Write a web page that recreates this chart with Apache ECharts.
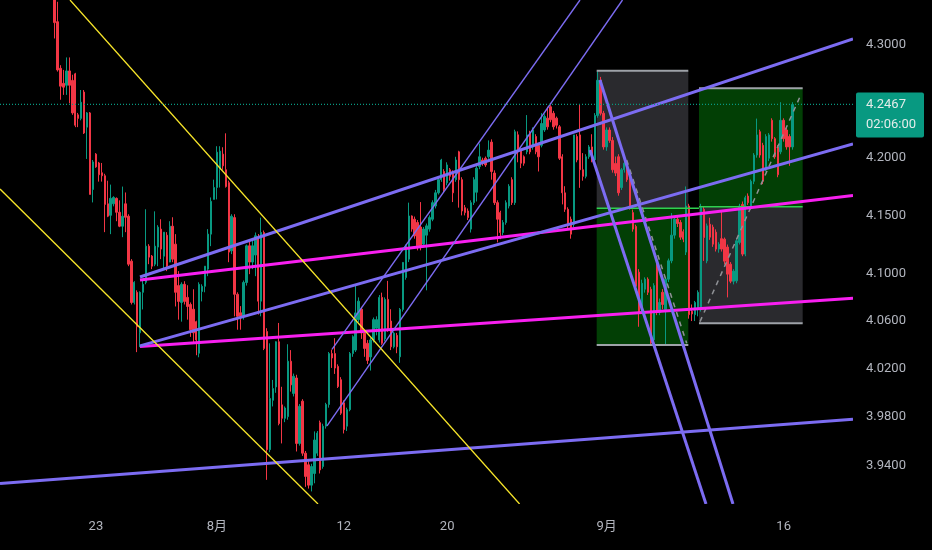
<!DOCTYPE html>
<html><head><meta charset="utf-8">
<script src="https://cdn.jsdelivr.net/npm/echarts@6/dist/echarts.min.js"></script>
<style>html,body{margin:0;padding:0;background:#000;}#c{width:932px;height:550px;}</style>
</head><body><div id="c"></div>
<script>
const barCount = 289;
const firstBar = 18;
const openPrices = [
4.345,4.3202,4.2786,4.2653,4.2636,4.2763,4.2679,4.2737,4.2375,4.2344,
4.2576,4.2267,4.2392,4.1724,4.2031,4.1954,4.1869,4.1843,4.1600,4.1501,
4.1600,4.1647,4.1527,4.1407,4.1600,4.1493,4.1108,4.0757,4.0843,4.0501,
4.0843,4.0928,4.1236,4.1151,4.1082,4.1228,4.1382,4.1150,4.1330,4.1100,
4.1407,4.1253,4.0900,4.0757,4.0911,4.0800,4.0740,4.0700,4.0595,4.0330,
4.0850,4.0894,4.1040,4.1339,4.1638,4.1741,4.1900,4.2031,4.1895,4.1783,
4.1196,4.1481,4.0826,4.0670,4.0640,4.0926,4.1239,4.1100,4.1160,4.1311,
4.0768,4.1353,4.0512,3.9531,3.9938,4.0049,4.0426,3.9900,3.9789,3.9803,
4.0263,3.9995,4.0123,3.9582,3.9931,3.9502,3.9407,3.9241,3.9336,3.9502,
3.9753,3.9393,3.9724,3.9903,4.0327,4.0327,4.0220,4.0109,3.9917,3.9724,
3.9860,4.0327,4.0356,4.0612,4.0700,4.0498,4.0413,4.0299,4.0441,4.0540,
4.0441,4.0800,4.0450,4.0783,4.0600,4.0384,4.0480,4.0300,4.0698,4.0968,
4.1125,4.1495,4.1467,4.1439,4.1400,4.1253,4.1330,4.1382,4.1467,4.1581,
4.1695,4.1809,4.1880,4.1781,4.1895,4.1866,4.1809,4.2051,4.1809,4.1567,
4.1538,4.1382,4.1610,4.1700,4.1923,4.1980,4.1995,4.2008,4.2136,4.1866,
4.1610,4.1524,4.1353,4.1439,4.1581,4.1809,4.1610,4.2200,4.2066,4.2008,
4.2051,4.2213,4.2094,4.2185,4.2108,4.2108,4.2242,4.2346,4.2446,4.2389,
4.2346,4.2270,4.2008,4.1695,4.1553,4.1467,4.1424,4.2185,4.2199,4.1895,
4.1838,4.2008,4.2094,4.1980,4.2370,4.2680,4.2389,4.2094,4.2242,4.2151,
4.1950,4.2008,4.1740,4.1895,4.1952,4.1866,4.1524,4.1405,4.1014,4.0700,
4.0869,4.0954,4.0869,4.0441,4.1100,4.0674,4.0843,4.0698,4.0954,4.1111,
4.1330,4.1467,4.1439,4.1360,4.1185,4.1581,4.0683,4.0654,4.0698,4.0698,
4.1553,4.1110,4.1424,4.1399,4.1356,4.1211,4.1300,4.1296,4.1228,4.1082,
4.0937,4.0940,4.1268,4.1595,4.1168,4.1667,4.1567,4.1795,4.2023,4.2227,
4.2108,4.1909,4.1995,4.2327,4.2166,4.2094,4.2051,4.2327,4.2242,4.2185,
4.2094];
const closePrices = [
4.3194,4.2772,4.2628,4.2619,4.2763,4.2636,4.2392,4.2284,4.2344,4.2486,
4.2216,4.2392,4.1681,4.1963,4.1920,4.1852,4.1843,4.1595,4.1493,4.1647,
4.1655,4.1527,4.1407,4.1493,4.1484,4.1082,4.0757,4.0928,4.0552,4.0843,
4.0911,4.1236,4.1142,4.1065,4.1236,4.1399,4.1211,4.1356,4.1065,4.1407,
4.1125,4.0843,4.0766,4.0911,4.0766,4.0723,4.0527,4.0501,4.0441,4.0911,
4.0894,4.1065,4.1339,4.1621,4.1741,4.2048,4.2057,4.1929,4.1749,4.1185,
4.1493,4.0826,4.0640,4.0640,4.0926,4.1239,4.1100,4.1239,4.1325,4.0768,
4.1353,4.0370,3.9531,3.9953,4.0035,4.0426,3.9746,3.9789,3.9874,4.0263,
4.0066,4.0137,3.9582,3.9888,3.9502,3.9312,3.9241,3.9393,3.9610,3.9667,
3.9365,3.9724,3.9903,4.0327,4.0290,4.0206,4.0052,3.9831,3.9696,3.9860,
4.0327,4.0469,4.0669,4.0768,4.0500,4.0370,4.0270,4.0441,4.0612,4.0612,
4.0800,4.0413,4.0783,4.0527,4.0384,4.0498,4.0384,4.0698,4.1097,4.1239,
4.1495,4.1382,4.1324,4.1239,4.1225,4.1382,4.1410,4.1481,4.1610,4.1695,
4.1809,4.1980,4.1724,4.1937,4.1838,4.1695,4.1980,4.1809,4.1538,4.1524,
4.1481,4.1610,4.1809,4.1909,4.2008,4.1952,4.1937,4.2066,4.1880,4.1610,
4.1467,4.1353,4.1439,4.1610,4.1752,4.1610,4.2227,4.2050,4.1952,4.1952,
4.2199,4.2051,4.2242,4.2051,4.2008,4.2299,4.2360,4.2270,4.2332,4.2270,
4.2284,4.1995,4.1695,4.1553,4.1410,4.1339,4.2199,4.1980,4.1895,4.1838,
4.2008,4.2094,4.1980,4.2370,4.2680,4.2389,4.2094,4.2242,4.2151,4.1895,
4.1866,4.1695,4.1895,4.1952,4.1809,4.1567,4.1382,4.0894,4.0674,4.0920,
4.0954,4.0843,4.0415,4.0900,4.0674,4.0757,4.0740,4.0954,4.1111,4.1330,
4.1467,4.1430,4.1313,4.1296,4.1581,4.0654,4.0660,4.0757,4.0843,4.1567,
4.1310,4.1410,4.1313,4.1253,4.1211,4.1253,4.1211,4.1108,4.0997,4.0937,
4.1023,4.1282,4.1580,4.1168,4.1653,4.1610,4.1795,4.2023,4.2199,4.2023,
4.1795,4.2185,4.2199,4.2166,4.2008,4.1852,4.2327,4.2166,4.2094,4.2094,
4.2467];
const lowPrices = [
4.3052,4.2757,4.2508,4.2551,4.2551,4.2477,4.2375,4.2267,4.2267,4.2327,
4.2207,4.1989,4.1681,4.1612,4.1912,4.1792,4.1792,4.1356,4.1485,4.1339,
4.1578,4.1450,4.1399,4.1313,4.1356,4.1065,4.0740,4.0740,4.0339,4.0381,
4.0698,4.0911,4.1082,4.1040,4.1065,4.1065,4.1125,4.1040,4.1023,4.1099,
4.1099,4.0723,4.0612,4.0595,4.0740,4.0612,4.0467,4.0424,4.0313,4.0296,
4.0766,4.0843,4.0980,4.1236,4.1638,4.1638,4.1741,4.1895,4.1740,4.1099,
4.1168,4.0640,4.0527,4.0527,4.0612,4.0900,4.0997,4.1040,4.0980,4.0655,
4.0640,4.0356,3.9284,3.9510,3.9887,4.0000,3.9731,3.9582,3.9757,3.9777,
4.0010,3.9970,3.9516,3.9564,3.9480,3.9227,3.9213,3.9190,3.9256,3.9480,
3.9336,3.9375,3.9704,3.9877,4.0207,4.0157,4.0040,3.9817,3.9664,3.9684,
3.9847,4.0300,4.0340,4.0590,4.0450,4.0300,4.0240,4.0185,4.0420,4.0480,
4.0420,4.0400,4.0430,4.0510,4.0356,4.0370,4.0330,4.0250,4.0680,4.0950,
4.1100,4.1360,4.1300,4.1200,4.1200,4.1230,4.0860,4.1360,4.1450,4.1560,
4.1680,4.1790,4.1700,4.1760,4.1800,4.1615,4.1790,4.1567,4.1500,4.1500,
4.1460,4.1353,4.1590,4.1620,4.1900,4.1930,4.1920,4.1990,4.1809,4.1590,
4.1268,4.1296,4.1330,4.1420,4.1560,4.1590,4.1590,4.1960,4.1909,4.1930,
4.2030,4.2030,4.2070,4.2030,4.1880,4.2090,4.2225,4.2245,4.2310,4.2245,
4.2255,4.1980,4.1595,4.1530,4.1390,4.1300,4.1400,4.1960,4.1738,4.1800,
4.1820,4.1990,4.1960,4.1960,4.2350,4.2370,4.2070,4.2060,4.2130,4.1870,
4.1840,4.1670,4.1720,4.1870,4.1790,4.1550,4.1360,4.0870,4.0552,4.0680,
4.0840,4.0820,4.0400,4.0420,4.0650,4.0650,4.0700,4.0399,4.0930,4.1090,
4.1300,4.1400,4.1290,4.1270,4.1160,4.0620,4.0600,4.0600,4.0640,4.0680,
4.1110,4.1090,4.1290,4.1230,4.1190,4.1180,4.1190,4.1080,4.0800,4.0920,
4.0910,4.0920,4.1250,4.1150,4.1150,4.1590,4.1550,4.1770,4.2000,4.2000,
4.1770,4.1880,4.1970,4.2140,4.1990,4.1830,4.2030,4.2140,4.2070,4.1929,
4.2070];
const highPrices = [
4.3500,4.3381,4.2814,4.2772,4.2883,4.2883,4.2729,4.2746,4.2392,4.2594,
4.2594,4.2400,4.2400,4.1980,4.2040,4.1963,4.1954,4.1860,4.1800,4.1766,
4.1665,4.1655,4.1630,4.1749,4.1698,4.1510,4.1125,4.0937,4.0860,4.0851,
4.0954,4.1553,4.1253,4.1160,4.1535,4.1416,4.1467,4.1356,4.1356,4.1450,
4.1484,4.1339,4.1023,4.0928,4.0937,4.0903,4.0757,4.0869,4.0603,4.0928,
4.0911,4.1065,4.1382,4.1655,4.1809,4.2100,4.2100,4.2091,4.2213,4.1800,
4.1510,4.1510,4.0843,4.0726,4.0943,4.1250,4.1280,4.1300,4.1353,4.1340,
4.1481,4.1370,4.0540,4.0413,4.0107,4.0430,4.0584,4.0050,3.9887,4.0405,
4.0356,4.0160,4.0150,3.9907,3.9947,3.9520,3.9436,3.9415,3.9681,3.9684,
3.9770,3.9744,3.9917,4.0340,4.0360,4.0456,4.0237,4.0130,3.9937,3.9877,
4.0340,4.0480,4.0897,4.0800,4.0720,4.0520,4.0440,4.0460,4.0630,4.0640,
4.0820,4.0840,4.0800,4.0940,4.0700,4.0510,4.0500,4.0710,4.1100,4.1250,
4.1610,4.1500,4.1490,4.1460,4.1615,4.1400,4.1430,4.1500,4.1630,4.1720,
4.1830,4.1990,4.1900,4.1960,4.1910,4.1890,4.2008,4.2060,4.1830,4.1590,
4.1560,4.1630,4.1830,4.1930,4.2123,4.2000,4.2010,4.2151,4.2160,4.1890,
4.1630,4.1540,4.1460,4.1630,4.1770,4.1830,4.2245,4.2230,4.2080,4.2020,
4.2373,4.2235,4.2265,4.2205,4.2130,4.2390,4.2380,4.2446,4.2460,4.2410,
4.2360,4.2285,4.2030,4.1752,4.1570,4.1490,4.2199,4.2205,4.2465,4.2040,
4.2030,4.2110,4.2205,4.2390,4.2762,4.2710,4.2410,4.2265,4.2265,4.2180,
4.2010,4.2030,4.1910,4.1970,4.1970,4.1890,4.1550,4.1420,4.1040,4.0950,
4.0970,4.0970,4.0890,4.0920,4.1150,4.0790,4.0870,4.0970,4.1130,4.1520,
4.1490,4.1490,4.1460,4.1380,4.1750,4.1600,4.0740,4.0770,4.0860,4.1600,
4.1580,4.1430,4.1480,4.1420,4.1380,4.1270,4.1538,4.1310,4.1250,4.1100,
4.1040,4.1300,4.1600,4.1620,4.1670,4.1690,4.1810,4.2040,4.2342,4.2245,
4.2130,4.2205,4.2215,4.2345,4.2180,4.2110,4.2486,4.2345,4.2265,4.2205,
4.2486];

const xTickIndex = [32, 73, 116, 151, 205, 265];
const xTickText = ['23', '8月', '12', '20', '9月', '16'];
const yTickValues = [4.30, 4.20, 4.15, 4.10, 4.06, 4.02, 3.98, 3.94];
const priceMin = 3.90876, priceMax = 4.33971;
const lastPrice = 4.2467;
const countdown = '02:06:00';

// drawings: [barIndex1, price1, barIndex2, price2]
const yellowLines = [[23.22, 4.33971, 175.54, 3.90876], [-0.5, 4.1728, 107.24, 3.90876]];
const purpleThickLines = [
  [46.93, 4.0973, 288.5, 4.3047],
  [46.93, 4.0391, 288.5, 4.2120],
  [-0.5, 3.9254, 288.5, 3.9781],
  [202.78, 4.2683, 247.84, 3.90876],
  [199.39, 4.2067, 238.69, 3.90876]
];
const purpleThinLines = [[111.98, 4.0362, 196.0, 4.33971], [110.29, 3.9726, 210.4, 4.33971]];
const magentaLines = [[46.93, 4.0947, 288.5, 4.1672], [46.93, 4.0386, 288.5, 4.0792]];
const grayZones = [[201.66, 4.2765, 232.70, 4.1561], [236.32, 4.1575, 271.45, 4.0581]];
const greenZones = [[201.66, 4.1561, 232.70, 4.0399], [236.32, 4.2609, 271.45, 4.1575]];
const zoneEdges = [[201.66, 4.2765, 232.70, 4.2765], [201.66, 4.0399, 232.70, 4.0399],
                   [236.32, 4.2609, 271.45, 4.2609], [236.32, 4.0581, 271.45, 4.0581]];
const entryLines = [[201.66, 4.1561, 236.32, 4.1561], [236.32, 4.1575, 271.45, 4.1575]];
const dashedLines = [[211.83, 4.1980, 232.15, 4.0413], [236.66, 4.0595, 270.54, 4.2535]];
const lastPriceLine = [[-0.5, lastPrice, 288.5, lastPrice]];

const categories = Array.from({length: barCount}, (_, i) => String(i));
const candleData = categories.map((_, i) => {
  const k = i - firstBar;
  if (k < 0 || k >= openPrices.length) return '-';
  return [openPrices[k], closePrices[k], lowPrices[k], highPrices[k]];
});
const tickMap = {};
xTickIndex.forEach((idx, j) => { tickMap[idx] = xTickText[j]; });

const FONT = "Roboto, 'Noto Sans CJK SC', sans-serif";
const LABEL_COLOR = '#b2b5be';

function segSeries(name, data, style, z) {
  return {
    type: 'custom', name, xAxisIndex: 1, yAxisIndex: 0, clip: true, z, silent: true,
    data, encode: {x: [0, 2], y: [1, 3]},
    renderItem: (params, api) => {
      const a = api.coord([api.value(0), api.value(1)]);
      const b = api.coord([api.value(2), api.value(3)]);
      return {type: 'line', shape: {x1: a[0], y1: a[1], x2: b[0], y2: b[1]},
              style: Object.assign({fill: null}, style)};
    }
  };
}
function rectSeries(name, data, fill, z) {
  return {
    type: 'custom', name, xAxisIndex: 1, yAxisIndex: 0, clip: true, z, silent: true,
    data, encode: {x: [0, 2], y: [1, 3]},
    renderItem: (params, api) => {
      const a = api.coord([api.value(0), api.value(1)]);
      const b = api.coord([api.value(2), api.value(3)]);
      return {type: 'rect', shape: {x: Math.min(a[0], b[0]), y: Math.min(a[1], b[1]),
              width: Math.abs(b[0] - a[0]), height: Math.abs(b[1] - a[1])}, style: {fill}};
    }
  };
}

const chart = echarts.init(document.getElementById('c'), null, {renderer: 'canvas'});
const option = {
  backgroundColor: '#000000',
  animation: false,
  grid: {left: 0, right: 79, top: 0, bottom: 46, containLabel: false},
  xAxis: [{
    type: 'category', data: categories, boundaryGap: true,
    axisLine: {show: false}, axisTick: {show: false}, splitLine: {show: false},
    axisLabel: {
      interval: (idx) => tickMap[idx] !== undefined,
      formatter: (v, idx) => tickMap[idx] || '',
      color: LABEL_COLOR, fontSize: 13, fontFamily: FONT, margin: 16
    }
  }, {
    type: 'value', min: -0.5, max: barCount - 0.5, show: false
  }],
  yAxis: [{
    type: 'log', min: priceMin, max: priceMax, show: false, splitLine: {show: false}
  }, {
    type: 'value', position: 'right', min: Math.log(priceMin), max: Math.log(priceMax),
    axisLine: {show: false}, axisTick: {show: false}, splitLine: {show: false},
    axisLabel: {
      customValues: yTickValues.map(v => Math.log(v)),
      formatter: v => Math.exp(v).toFixed(4),
      color: LABEL_COLOR, fontSize: 13, fontFamily: FONT, margin: 13
    }
  }],
  series: [
    rectSeries('grayZones', grayZones, '#2a2a2e', 1),
    rectSeries('greenZones', greenZones, '#023f05', 1),
    {
      type: 'candlestick', name: 'price', xAxisIndex: 0, yAxisIndex: 0, z: 2,
      data: candleData, barWidth: 1.9, clip: true,
      itemStyle: {color: '#089981', color0: '#f23645', borderColor: '#089981',
                  borderColor0: '#f23645', borderWidth: 1}
    },
    segSeries('zoneEdges', zoneEdges, {stroke: '#9ea2a8', lineWidth: 2}, 3),
    segSeries('entryLines', entryLines, {stroke: '#2fd14f', lineWidth: 1.5}, 3),
    segSeries('dashed', dashedLines, {stroke: '#8f9196', lineWidth: 1.5, lineDash: [5, 5]}, 3),
    segSeries('magenta', magentaLines, {stroke: '#f81ff0', lineWidth: 3}, 4),
    segSeries('purpleThick', purpleThickLines, {stroke: '#7c6cf2', lineWidth: 3}, 4),
    segSeries('purpleThin', purpleThinLines, {stroke: '#7c6cf2', lineWidth: 1.4}, 4),
    segSeries('yellow', yellowLines, {stroke: '#f7e52a', lineWidth: 1.3}, 4),
    segSeries('lastPrice', lastPriceLine, {stroke: '#089981', lineWidth: 1.2, lineDash: [1, 2]}, 5)
  ]
};
chart.setOption(option);

const py = chart.convertToPixel({yAxisIndex: 0}, lastPrice);
chart.setOption({
  graphic: [{
    type: 'group', z: 100,
    children: [
      {type: 'rect', shape: {x: 856, y: py - 12, width: 68, height: 45, r: 2}, style: {fill: '#089981'}},
      {type: 'text', style: {text: lastPrice.toFixed(4), x: 866, y: py, verticalAlign: 'middle',
        fill: '#e3ecea', fontSize: 13, fontFamily: FONT}},
      {type: 'text', style: {text: countdown, x: 866, y: py + 20, verticalAlign: 'middle',
        fill: '#e3ecea', fontSize: 13, fontFamily: FONT}}
    ]
  }]
});
</script></body></html>
